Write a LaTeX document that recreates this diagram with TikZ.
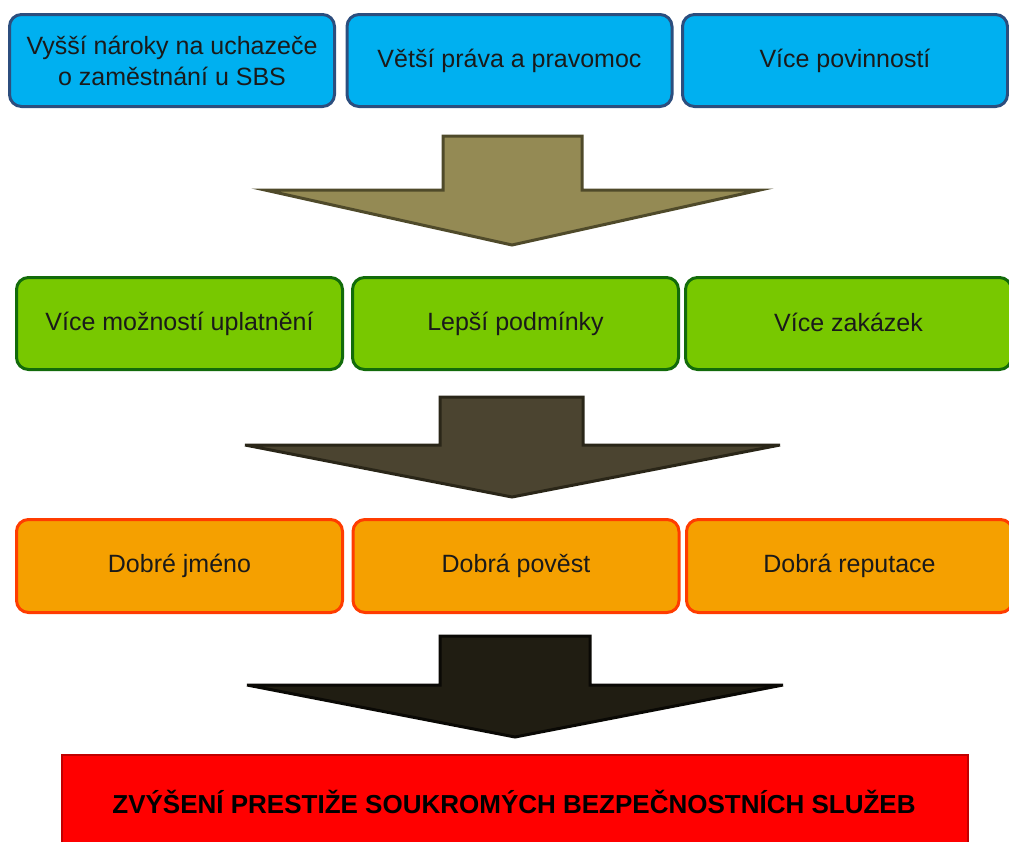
\documentclass[tikz,border=0pt]{standalone}
\usepackage{fontspec}
\setmainfont{Liberation Sans}
\definecolor{bluefill}{HTML}{00B0F0}
\definecolor{bluedraw}{HTML}{2C4E7E}
\definecolor{greenfill}{HTML}{78C800}
\definecolor{greendraw}{HTML}{126B0A}
\definecolor{orangefill}{HTML}{F5A000}
\definecolor{orangedraw}{HTML}{FF3C00}
\definecolor{redfill}{HTML}{FF0000}
\definecolor{reddraw}{HTML}{C00000}
\definecolor{arrowA}{HTML}{948A54}
\definecolor{arrowAd}{HTML}{4F4A2A}
\definecolor{arrowB}{HTML}{4B4430}
\definecolor{arrowBd}{HTML}{2A2618}
\definecolor{arrowC}{HTML}{201D12}
\definecolor{arrowCd}{HTML}{0A0905}
\definecolor{txt}{HTML}{1A1A1A}
\begin{document}
\begin{tikzpicture}[x=1pt,y=-1pt,
  box/.style={rounded corners=12pt, line width=3pt, align=center, text=txt,
    font=\fontsize{25}{31}\selectfont, inner sep=0pt},
  bluebox/.style={box, fill=bluefill, draw=bluedraw, minimum width=325pt, minimum height=92pt},
  greenbox/.style={box, fill=greenfill, draw=greendraw, minimum width=326pt, minimum height=92pt},
  orangebox/.style={box, fill=orangefill, draw=orangedraw, minimum width=326pt, minimum height=93pt},
  blockarrow/.style={line width=3pt, line join=miter}
]
\useasboundingbox (0,0) rectangle (1009,841);
% top row
\node[bluebox] (b1) at (172,60.5) {Vyšší nároky na uchazeče\\o zaměstnání u SBS};
\node[bluebox] (b2) at (509.5,60.5) {\raisebox{5pt}{Větší práva a pravomoc}};
\node[bluebox] (b3) at (845,60.5) {\raisebox{3pt}{Více povinností}};
% arrow 1
\draw[blockarrow, fill=arrowA, draw=arrowAd] (443,136) -- (582,136) -- (582,190) -- (760,190) -- (512,245) -- (265,190) -- (443,190) -- cycle;
% green row
\node[greenbox] (g1) at (179.5,323.5) {\raisebox{2pt}{Více možností uplatnění}};
\node[greenbox] (g2) at (515.5,323.5) {\raisebox{2pt}{Lepší podmínky}};
\node[greenbox] (g3) at (848.5,323.5) {\raisebox{2pt}{Více zakázek}};
% arrow 2
\draw[blockarrow, fill=arrowB, draw=arrowBd] (440,397) -- (583,397) -- (583,445) -- (780,445) -- (512,497) -- (245,445) -- (440,445) -- cycle;
% orange row
\node[orangebox] (o1) at (179.5,566) {Dobré jméno};
\node[orangebox] (o2) at (516,566) {\raisebox{-2pt}{Dobrá pověst}};
\node[orangebox] (o3) at (849.5,566) {\raisebox{3pt}{Dobrá reputace}};
% arrow 3
\draw[blockarrow, fill=arrowC, draw=arrowCd] (440,636) -- (590,636) -- (590,685) -- (783,685) -- (515,737) -- (247,685) -- (440,685) -- cycle;
% final box
\path[fill=redfill, draw=reddraw, line width=2pt] (62,755) rectangle (968,850);
\node[font=\bfseries\fontsize{26}{30}\selectfont, text=black, inner sep=0pt] (final) at (514,802) {ZVÝŠENÍ PRESTIŽE SOUKROMÝCH BEZPEČNOSTNÍCH SLUŽEB};
\end{tikzpicture}
\end{document}
